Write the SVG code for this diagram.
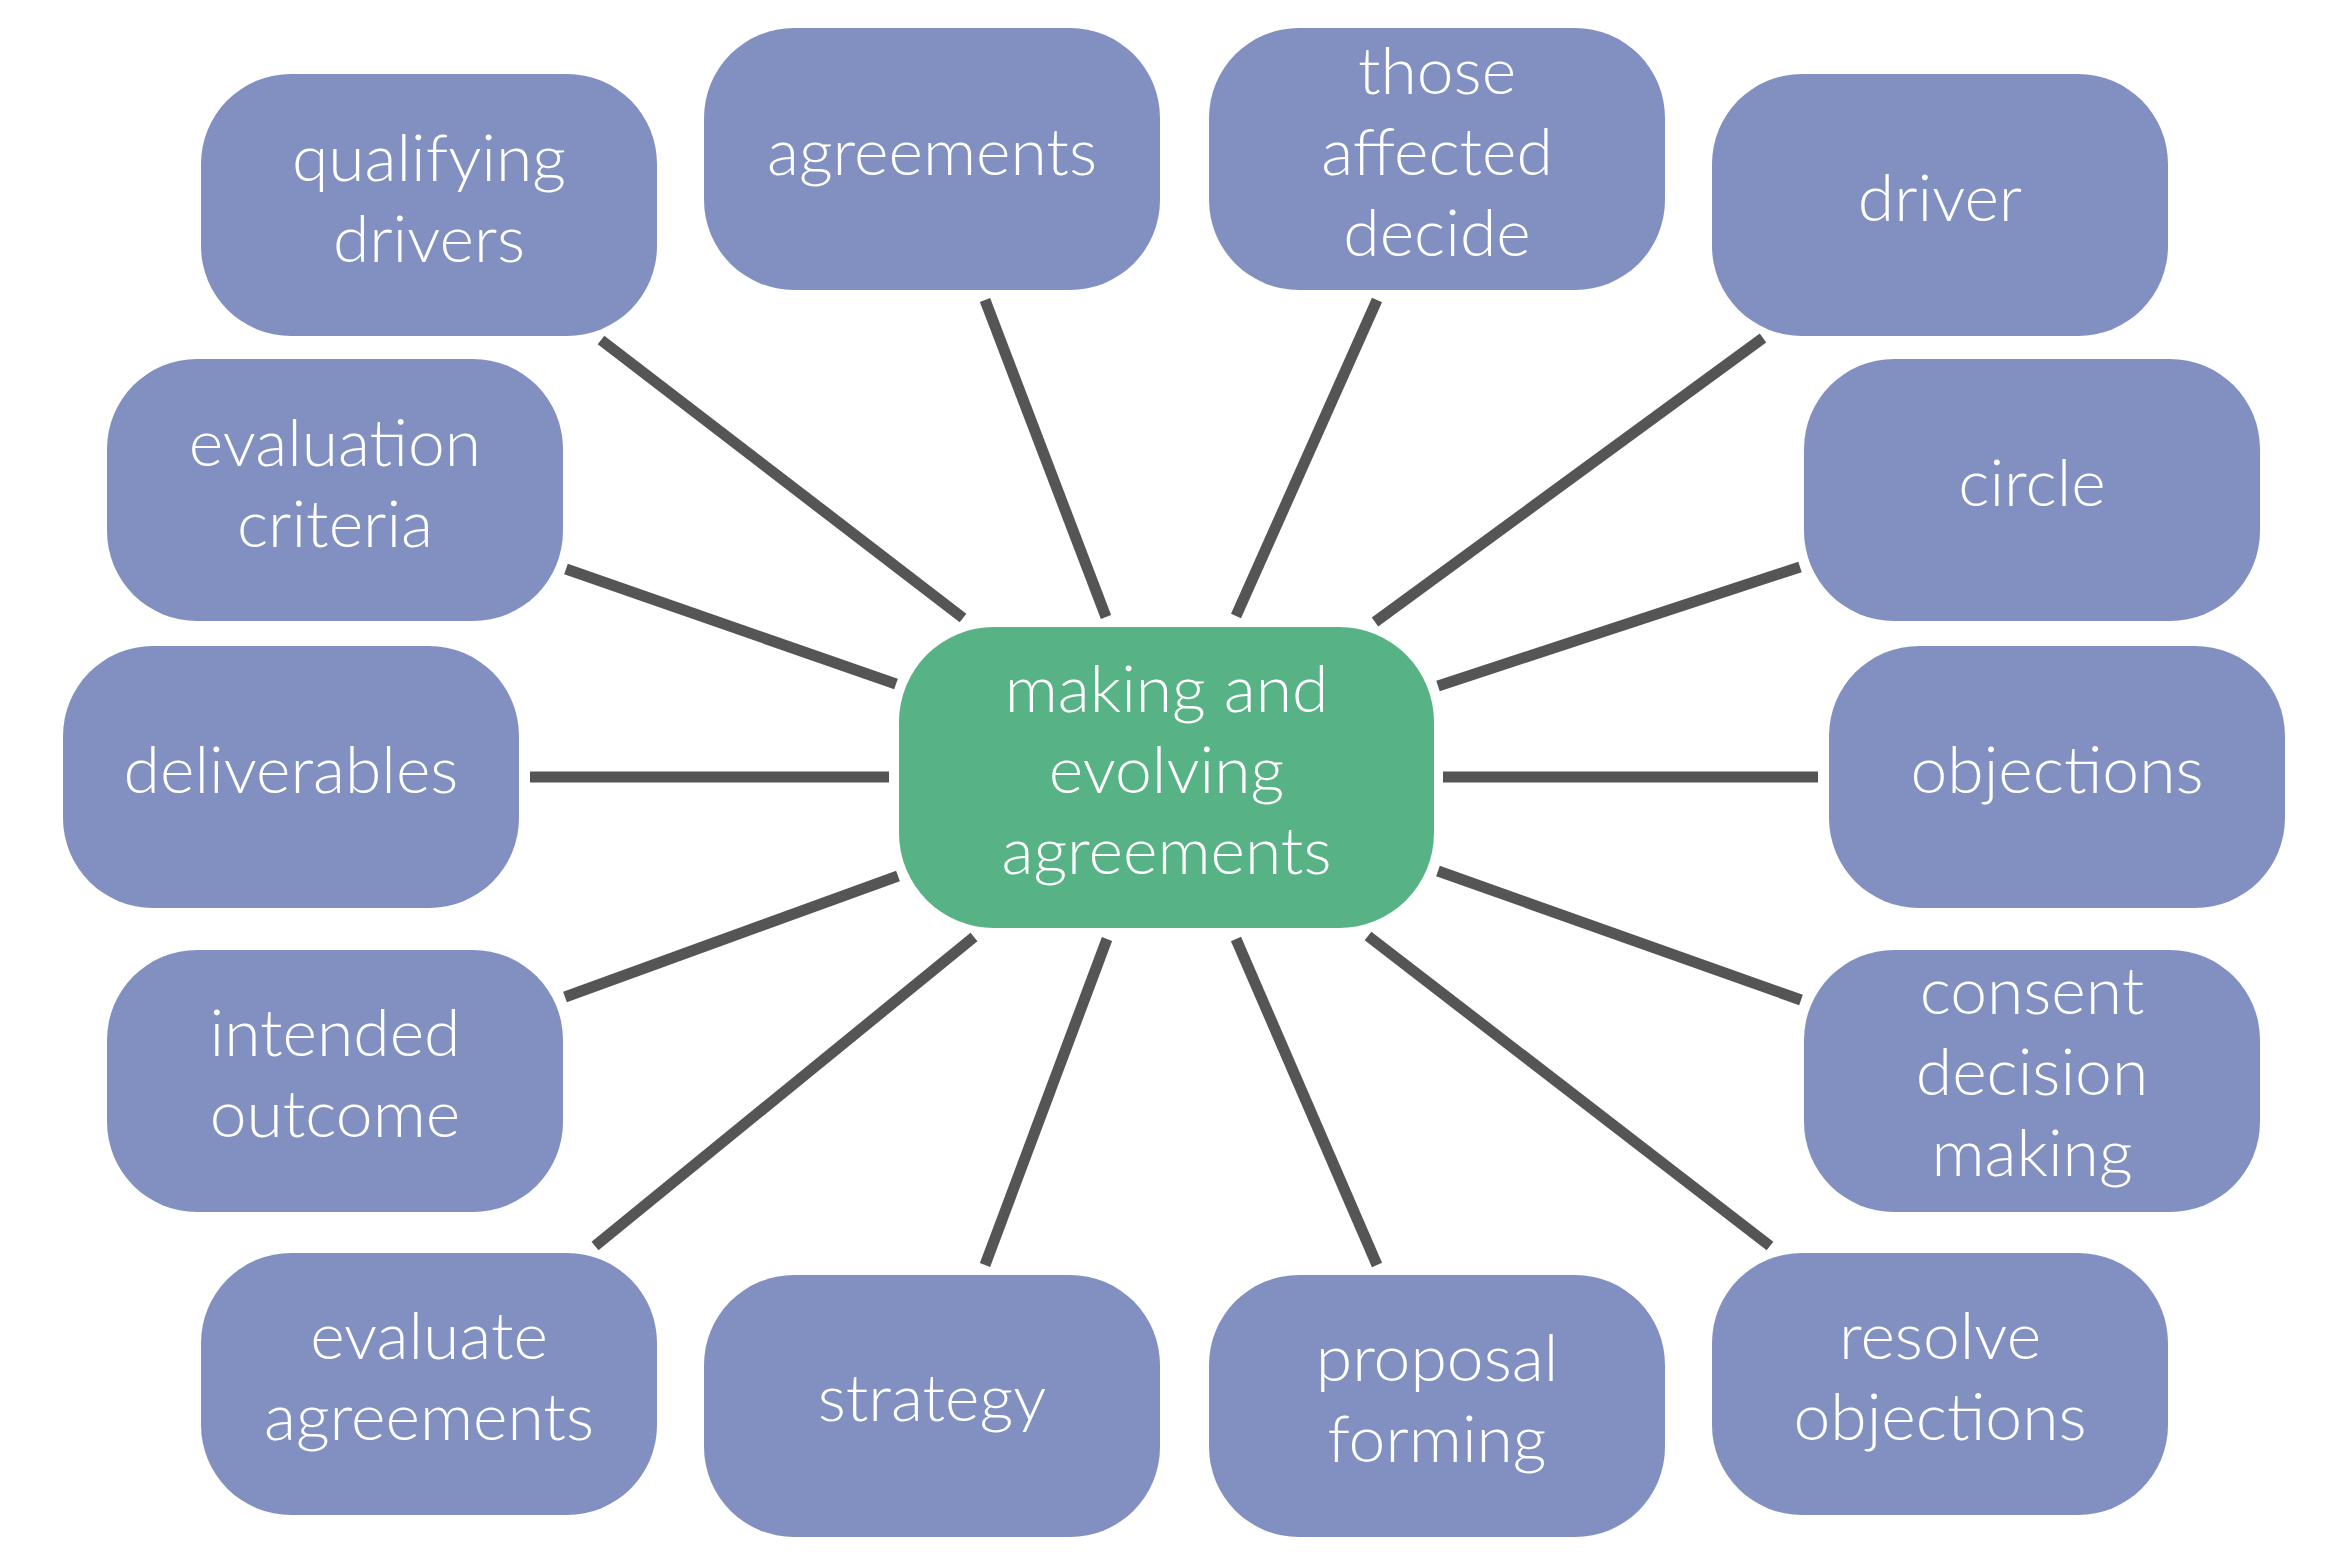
<svg xmlns="http://www.w3.org/2000/svg" width="2333" height="1555" viewBox="0 0 2333 1555">
<style>
.node rect{fill:#8290C1}
#center rect{fill:#57B385}
text{font-family:Lato,"Liberation Sans",sans-serif;font-weight:300;font-size:66px;fill:#ffffff;text-anchor:middle}
.conn line{stroke:#555555;stroke-width:11;stroke-linecap:butt}
</style>
<rect width="2333" height="1555" fill="#ffffff"/>
<g id="connectors" class="conn">
<line x1="601" y1="340" x2="963" y2="618"/>
<line x1="985" y1="300" x2="1106" y2="617"/>
<line x1="1377" y1="300" x2="1236" y2="616"/>
<line x1="1763" y1="338" x2="1375" y2="622"/>
<line x1="566" y1="569" x2="896" y2="684"/>
<line x1="1800" y1="567" x2="1438" y2="686"/>
<line x1="530" y1="777" x2="889" y2="777"/>
<line x1="1443" y1="777" x2="1818" y2="777"/>
<line x1="565" y1="997" x2="898" y2="876"/>
<line x1="1801" y1="1000" x2="1438" y2="871"/>
<line x1="595" y1="1246" x2="974" y2="937"/>
<line x1="985" y1="1265" x2="1107" y2="939"/>
<line x1="1377" y1="1265" x2="1236" y2="939"/>
<line x1="1770" y1="1246" x2="1368" y2="936"/>
</g>
<g id="center"><rect x="899" y="627" width="535" height="301" rx="95" ry="95"/><text x="1166.5" y="712">making and</text><text x="1166.5" y="793">evolving</text><text x="1166.5" y="874">agreements</text></g>
<g id="qualifying-drivers" class="node"><rect x="201" y="74" width="456" height="262" rx="90"/><text x="429" y="181">qualifying</text><text x="429" y="262">drivers</text></g>
<g id="agreements" class="node"><rect x="704" y="28" width="456" height="262" rx="90"/><text x="932" y="175">agreements</text></g>
<g id="those-affected-decide" class="node"><rect x="1209" y="28" width="456" height="262" rx="90"/><text x="1437" y="94">those</text><text x="1437" y="175">affected</text><text x="1437" y="256">decide</text></g>
<g id="driver" class="node"><rect x="1712" y="74" width="456" height="262" rx="90"/><text x="1940" y="221">driver</text></g>
<g id="evaluation-criteria" class="node"><rect x="107" y="359" width="456" height="262" rx="90"/><text x="335" y="466">evaluation</text><text x="335" y="547">criteria</text></g>
<g id="circle" class="node"><rect x="1804" y="359" width="456" height="262" rx="90"/><text x="2032" y="506">circle</text></g>
<g id="deliverables" class="node"><rect x="63" y="646" width="456" height="262" rx="90"/><text x="291" y="793">deliverables</text></g>
<g id="objections" class="node"><rect x="1829" y="646" width="456" height="262" rx="90"/><text x="2057" y="793">objections</text></g>
<g id="intended-outcome" class="node"><rect x="107" y="950" width="456" height="262" rx="90"/><text x="335" y="1056">intended</text><text x="335" y="1137">outcome</text></g>
<g id="consent-decision-making" class="node"><rect x="1804" y="950" width="456" height="262" rx="90"/><text x="2032" y="1014">consent</text><text x="2032" y="1095">decision</text><text x="2032" y="1176">making</text></g>
<g id="evaluate-agreements" class="node"><rect x="201" y="1253" width="456" height="262" rx="90"/><text x="429" y="1359">evaluate</text><text x="429" y="1440">agreements</text></g>
<g id="strategy" class="node"><rect x="704" y="1275" width="456" height="262" rx="90"/><text x="932" y="1421">strategy</text></g>
<g id="proposal-forming" class="node"><rect x="1209" y="1275" width="456" height="262" rx="90"/><text x="1437" y="1381">proposal</text><text x="1437" y="1462">forming</text></g>
<g id="resolve-objections" class="node"><rect x="1712" y="1253" width="456" height="262" rx="90"/><text x="1940" y="1359">resolve</text><text x="1940" y="1440">objections</text></g>
</svg>
